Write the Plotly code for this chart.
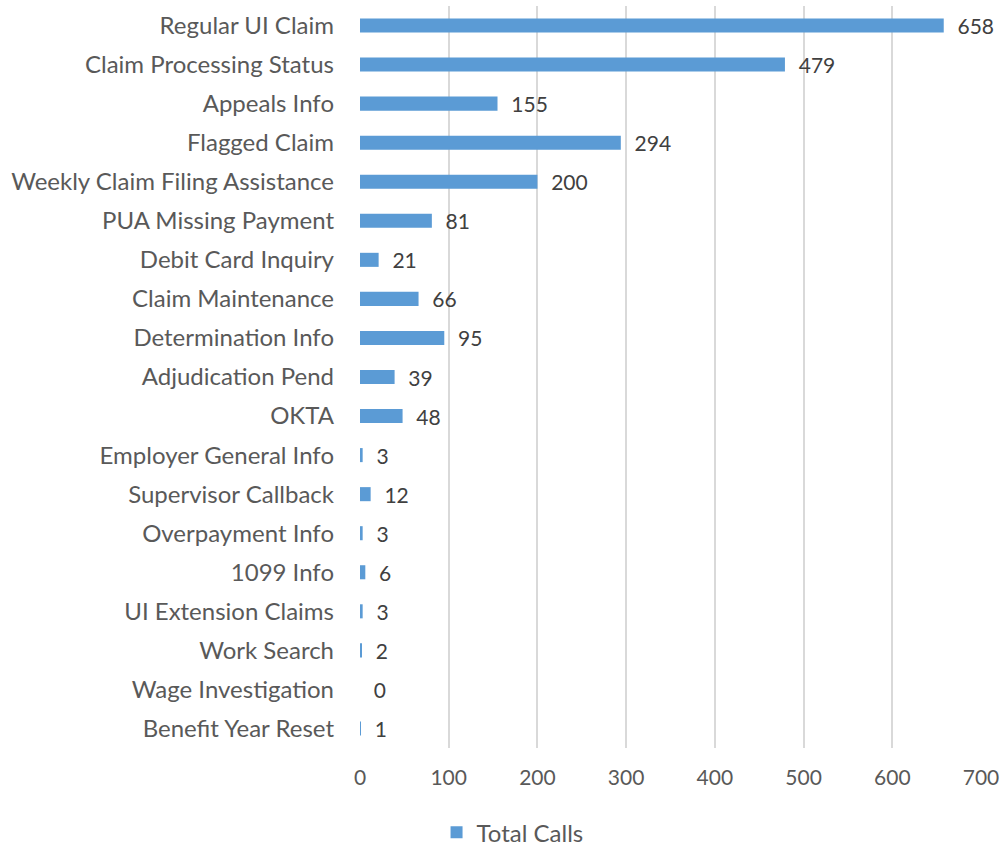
import plotly.graph_objects as go

categories = ["Regular UI Claim", "Claim Processing Status", "Appeals Info", "Flagged Claim",
              "Weekly Claim Filing Assistance", "PUA Missing Payment", "Debit Card Inquiry",
              "Claim Maintenance", "Determination Info", "Adjudication Pend", "OKTA",
              "Employer General Info", "Supervisor Callback", "Overpayment Info", "1099 Info",
              "UI Extension Claims", "Work Search", "Wage Investigation", "Benefit Year Reset"]
total_calls = [658, 479, 155, 294, 200, 81, 21, 66, 95, 39, 48, 3, 12, 3, 6, 3, 2, 0, 1]
x_ticks = [0, 100, 200, 300, 400, 500, 600, 700]

FONT = "Lato"
fig = go.Figure()
fig.add_trace(go.Bar(
    y=categories, x=total_calls, orientation="h", name="Total Calls",
    marker=dict(color="#5B9BD5", line=dict(width=0)),
    text=total_calls, texttemplate="\u00a0\u00a0%{x}", textposition="outside",
    textfont=dict(family=FONT, size=21, color="#404040"),
    constraintext="none",
    cliponaxis=False,
))
fig.update_layout(
    width=1005, height=847,
    margin=dict(l=360, r=21, t=6, b=99),
    paper_bgcolor="white", plot_bgcolor="white",
    bargap=0.64,
    font=dict(family=FONT, size=21, color="#595959"),
    showlegend=True,
    legend=dict(orientation="h", x=0.51, xref="container", xanchor="center",
                y=0.0435, yref="container", yanchor="top",
                font=dict(family=FONT, size=24, color="#595959")),
    xaxis=dict(range=[0, 700], tickvals=x_ticks, showgrid=True, gridcolor="#D9D9D9",
               gridwidth=1.5, zeroline=False, showline=False, ticks="",
               ticklabelstandoff=15, tickfont=dict(size=21, color="#595959")),
    yaxis=dict(autorange="reversed", showgrid=False, zeroline=False, showline=False,
               ticks="", ticklabelstandoff=25, tickfont=dict(size=24, color="#595959")),
)
fig.write_html("out.html", config={"displayModeBar": False},
               post_script="document.body.style.margin='0px';document.body.style.overflow='hidden';")
